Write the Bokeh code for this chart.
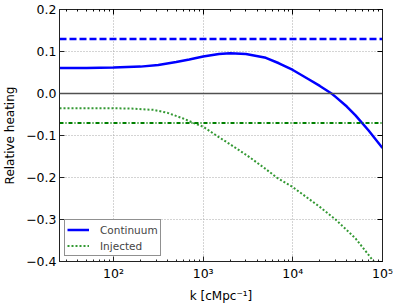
from bokeh.plotting import figure
from bokeh.models import (Range1d, LogAxis, LinearAxis, CustomJSTickFormatter, FixedTicker,
                          Span, Legend, LegendItem, LogTicker)
from bokeh.embed import file_html
from bokeh.resources import INLINE

# data
k_cont = [25, 50, 100, 200, 316, 500, 700, 1000, 1500, 2000, 3000, 5000, 7000, 10000,
          15000, 20000, 27000, 30000, 40000, 50000, 70000, 100000]
v_cont = [0.061, 0.061, 0.062, 0.064, 0.068, 0.075, 0.081, 0.088, 0.094, 0.096, 0.094,
          0.085, 0.072, 0.056, 0.034, 0.018, 0.0, -0.008, -0.031, -0.052, -0.088, -0.13]
k_inj = [25, 50, 100, 160, 280, 400, 590, 800, 1000, 1400, 2000, 3162, 5000, 6600, 10000,
         20000, 30000, 50000, 80000, 100000]
v_inj = [-0.035, -0.035, -0.035, -0.036, -0.039, -0.046, -0.059, -0.071, -0.079, -0.1,
         -0.121, -0.149, -0.18, -0.2, -0.223, -0.27, -0.3, -0.345, -0.4, -0.425]
cont_ref = 0.13
inj_ref = -0.07
x_range = (25, 1e5)
y_range = (-0.4, 0.2)
y_ticks = [-0.4, -0.3, -0.2, -0.1, 0.0, 0.1, 0.2]
x_ticks = [1e2, 1e3, 1e4, 1e5]

FONT = "DejaVu Sans"

p = figure(width=398, height=305, x_axis_type="log", output_backend="svg",
           toolbar_location=None, x_range=Range1d(*x_range), y_range=Range1d(*y_range),
           min_border_left=56, min_border_right=16, min_border_top=9, min_border_bottom=43)
p.background_fill_color = "white"
p.border_fill_color = "white"
p.outline_line_color = "#222222"
p.outline_line_width = 1

yfmt = CustomJSTickFormatter(code="""
if (Math.abs(tick) < 1e-9) return '0.0';
var s = tick.toFixed(1);
return s.replace('-', '\\u2212');
""")
xfmt = CustomJSTickFormatter(code="""
var e = Math.round(Math.log10(tick));
var sup = {'0':'\\u2070','1':'\\u00b9','2':'\\u00b2','3':'\\u00b3','4':'\\u2074','5':'\\u2075'};
return '10' + String(e).split('').map(function(c){return sup[c];}).join('');
""")
blank = CustomJSTickFormatter(code="return '';")

xtick = LogTicker(desired_num_ticks=4, num_minor_ticks=10)
for ax in p.xaxis:
    ax.ticker = xtick
    ax.formatter = xfmt
    ax.axis_label = "k [cMpc\u207b\u00b9]"
    ax.major_label_standoff = 4
    ax.axis_label_standoff = 5
for ax in p.yaxis:
    ax.ticker = FixedTicker(ticks=y_ticks)
    ax.formatter = yfmt
    ax.axis_label = "Relative heating"
    ax.major_label_standoff = 3
    ax.axis_label_standoff = 6

for ax in list(p.xaxis) + list(p.yaxis):
    ax.major_label_text_font = FONT
    ax.major_label_text_font_size = "12.5px"
    ax.major_label_text_color = "black"
    ax.axis_label_text_font = FONT
    ax.axis_label_text_font_size = "12px"
    ax.axis_label_text_font_style = "normal"
    ax.axis_label_text_color = "black"
    ax.major_tick_in = 5
    ax.major_tick_out = 0
    ax.minor_tick_in = 2
    ax.minor_tick_out = 0
    ax.axis_line_color = "#222222"
    ax.major_tick_line_color = "#222222"
    ax.minor_tick_line_color = "#222222"
p.yaxis.minor_tick_line_color = None

top = LogAxis(ticker=xtick, formatter=blank, major_tick_in=5, major_tick_out=0,
              minor_tick_in=2, minor_tick_out=0, major_label_text_font_size="0px",
              major_label_standoff=0, axis_line_color="#222222")
right = LinearAxis(ticker=FixedTicker(ticks=y_ticks), formatter=blank, major_tick_in=5,
                   major_tick_out=0, minor_tick_line_color=None,
                   major_label_text_font_size="0px", major_label_standoff=0,
                   axis_line_color="#222222")
p.add_layout(top, "above")
p.add_layout(right, "right")

p.xgrid.ticker = FixedTicker(ticks=x_ticks)
p.ygrid.ticker = FixedTicker(ticks=y_ticks)
for g in (p.xgrid[0], p.ygrid[0]):
    g.grid_line_color = "#a8a8a8"
    g.grid_line_dash = "1 2"
    g.grid_line_width = 1

p.add_layout(Span(location=0, dimension="width", line_color="#505050", line_width=1.5))

blue = "#0000ff"
green = "#008000"
r_cont = p.line(k_cont, v_cont, line_color=blue, line_width=2.5)
r_inj = p.line(k_inj, v_inj, line_color=green, line_width=2, line_dash="2 2", line_alpha=0.8)
p.line(list(x_range), [cont_ref, cont_ref], line_color=blue, line_width=2.5, line_dash="7 3")
p.line(list(x_range), [inj_ref, inj_ref], line_color=green, line_width=2, line_dash="4 2 1 2")

legend = Legend(items=[LegendItem(label="Continuum", renderers=[r_cont]),
                       LegendItem(label="Injected", renderers=[r_inj])],
                location="bottom_left", label_text_font=FONT, label_text_font_size="10.5px",
                border_line_color="#222222", border_line_width=1, margin=5, padding=2,
                spacing=1, label_height=15, glyph_height=15, glyph_width=22,
                label_standoff=11, background_fill_alpha=1)
p.add_layout(legend)

open("out.html", "w").write(file_html(p, INLINE))
